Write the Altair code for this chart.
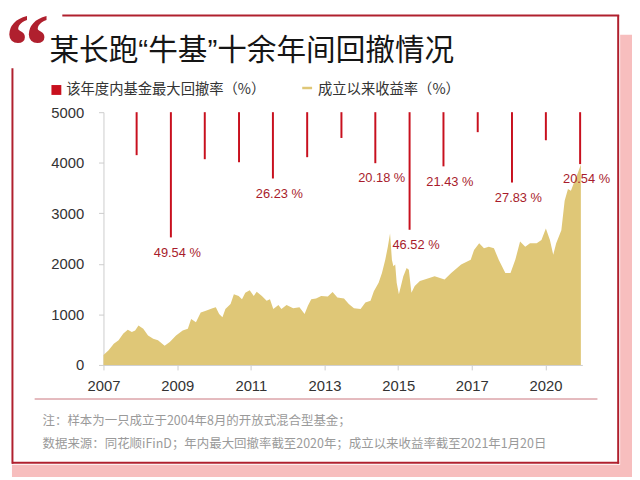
import altair as alt
import pandas as pd

# ---------------- data ----------------
# cumulative return since inception (%)
area_t = [0.00, 0.14, 0.28, 0.41, 0.54, 0.66, 0.77, 0.86, 0.95, 1.08, 1.21, 1.35, 1.48, 1.66, 1.80,
          1.97, 2.15, 2.29, 2.38, 2.51, 2.64, 2.78, 2.96, 3.05, 3.14, 3.23, 3.31, 3.45, 3.54, 3.67,
          3.76, 3.85, 3.97, 4.08, 4.16, 4.30, 4.43, 4.52, 4.61, 4.75, 4.83, 4.97, 5.15, 5.32, 5.46,
          5.55, 5.64, 5.77, 5.91, 6.09, 6.22, 6.35, 6.53, 6.66, 6.80, 6.98, 7.11, 7.25, 7.34, 7.47,
          7.56, 7.65, 7.72, 7.78, 7.83, 7.87, 7.92, 7.96, 8.02, 8.14, 8.23, 8.29, 8.36, 8.45, 8.59,
          8.72, 8.99, 9.26, 9.44, 9.71, 9.97, 10.06, 10.20, 10.33, 10.46, 10.60, 10.73, 10.91, 11.05,
          11.18, 11.31, 11.45, 11.58, 11.76, 11.89, 12.01, 12.12, 12.21, 12.29, 12.43, 12.52, 12.61,
          12.69, 12.79, 12.88, 12.96]
area_v = [195, 290, 420, 490, 620, 695, 650, 680, 780, 715, 585, 520, 490, 380, 455,
          585, 680, 715, 910, 845, 1040, 1070, 1120, 1140, 1010, 945, 1105, 1205, 1400, 1365,
          1300, 1430, 1480, 1365, 1450, 1365, 1270, 1300, 1105, 1185, 1105, 1185, 1120, 1140, 1010,
          1170, 1300, 1315, 1365, 1355, 1445, 1335, 1315, 1205, 1120, 1105, 1235, 1270, 1460, 1625,
          1820, 2080, 2340, 2600, 2080, 1950, 1985, 1625, 1400, 1755, 1920, 1885, 1430, 1560, 1660,
          1690, 1755, 1690, 1820, 1985, 2080, 2275, 2405, 2310, 2340, 2310, 2080, 1820, 1820,
          2080, 2440, 2340, 2405, 2405, 2470, 2700, 2470, 2180, 2405, 2665, 3250, 3480,
          3445, 3640, 3800, 3965]

x_tick_vals = [0, 2, 4, 6, 8, 10, 12]
x_tick_labels = ["2007", "2009", "2011", "2013", "2015", "2017", "2020"]
y_ticks = [0, 1000, 2000, 3000, 4000, 5000]

# yearly maximum drawdown (%)
dd_years = list(range(2007, 2021))
dd_x = [0.90, 1.83, 2.75, 3.68, 4.60, 5.53, 6.46, 7.38, 8.31, 9.23, 10.16, 11.09, 12.01, 12.94]
dd_pct = [17.0, 49.54, 18.6, 19.8, 26.23, 17.8, 10.2, 20.18, 46.52, 21.43, 7.9, 27.83, 11.1, 20.54]
dd_show = [False, True, False, False, True, False, False, True, True, True, False, True, False, True]

title_text = "某长跑“牛基”十余年间回撤情况"
legend_labels = ["该年度内基金最大回撤率（%）", "成立以来收益率（%）"]
notes = ["注：样本为一只成立于2004年8月的开放式混合型基金；",
         "数据来源：同花顺iFinD；年内最大回撤率截至2020年；成立以来收益率截至2021年1月20日"]

# ---------------- styles / layout ----------------
RED = "#c8101e"
DARKRED = "#b0202e"
LABELRED = "#a81c2c"
GOLD = "#dfc777"
PINK = "#f7bebe"
CJK = "Noto Sans CJK SC"
LAT = "Liberation Sans"

OX, OY = 104.7, 110.5   # page position of the plot origin
W, H = 485, 256
SVG_W, SVG_H = 632, 472


def X(p):
    return p - OX


def Y(p):
    return p - OY


one = alt.Data(values=[{"k": 1}])


def rule(x1, y1, x2, y2, color, w):
    return alt.Chart(one).mark_rule(color=color, strokeWidth=w).encode(
        x=alt.value(X(x1)), x2=alt.value(X(x2)), y=alt.value(Y(y1)), y2=alt.value(Y(y2)))


def rect(x1, y1, x2, y2, color):
    return alt.Chart(one).mark_rect(color=color).encode(
        x=alt.value(X(x1)), x2=alt.value(X(x2)), y=alt.value(Y(y1)), y2=alt.value(Y(y2)))


def text(s, x, y, size, color, font, align="left", baseline="middle", weight="normal"):
    return alt.Chart(one).mark_text(text=s, fontSize=size, color=color, font=font, align=align,
                                    baseline=baseline, fontWeight=weight).encode(
        x=alt.value(X(x)), y=alt.value(Y(y)))


xscale = alt.Scale(domain=[0, 13], nice=False, zero=False)
yscale = alt.Scale(domain=[0, 5000], nice=False)

label_expr = "[" + ",".join("'%s'" % s for s in x_tick_labels) + "][round(datum.value/2)]"

area_df = pd.DataFrame({"t": area_t, "v": area_v})
dd_df = pd.DataFrame({"year": dd_years, "t": dd_x, "pct": dd_pct,
                      "label": [("%.2f %%" % p) if s else "" for p, s in zip(dd_pct, dd_show)]})

x_axis = alt.Axis(values=x_tick_vals, labelExpr=label_expr, title=None, grid=False,
                  domainColor="#cccccc", tickColor="#cccccc", tickSize=5, labelFlush=False,
                  labelFontSize=15, labelFont=LAT, labelColor="#333333", labelPadding=9)
y_axis = alt.Axis(values=y_ticks, format="d", title=None, grid=False, domainColor="#cccccc",
                  tickColor="#cccccc", tickSize=5, labelFontSize=15, labelFont=LAT,
                  labelFlush=False, labelColor="#333333", labelPadding=15)

area = alt.Chart(area_df).mark_area(color=GOLD, opacity=1).encode(
    x=alt.X("t:Q", scale=xscale, axis=x_axis),
    y=alt.Y("v:Q", scale=yscale, axis=y_axis),
)

bars = alt.Chart(dd_df).transform_calculate(
    top="5000", bottom="5000 - datum.pct * 50"
).mark_rule(color=RED, strokeWidth=2).encode(
    x=alt.X("t:Q", scale=xscale, axis=x_axis),
    y=alt.Y("top:Q", scale=yscale, axis=y_axis),
    y2="bottom:Q",
)

labels = alt.Chart(dd_df).transform_calculate(
    bottom="5000 - datum.pct * 50"
).mark_text(color=LABELRED, fontSize=13, font=LAT, dx=6.5, dy=15.5, align="center",
            baseline="middle").encode(
    x=alt.X("t:Q", scale=xscale, axis=x_axis),
    y=alt.Y("bottom:Q", scale=yscale, axis=y_axis),
    text="label:N",
)

decor = [
    rect(628, 32, 640, 480, PINK),
    rect(12, 467.5, 640, 480, PINK),
    rule(63, 12.5, 627, 12.5, DARKRED, 2),
    rule(626, 12, 626, 466.5, DARKRED, 2),
    rule(12, 465.5, 627, 465.5, DARKRED, 2),
    rule(12.5, 66, 12.5, 466.5, DARKRED, 2),
    rule(35, 401, 605, 401, "#c9747c", 1),
]

texts = [
    text("“", 5, 73, 90, DARKRED, "Liberation Serif", baseline="alphabetic", weight="bold"),
    text(title_text, 50, 49, 30, "#151515", "Liberation Sans, Noto Sans CJK SC"),
    rect(52, 83, 62, 93, RED),
    text(legend_labels[0], 67, 88, 14.5, "#333333", CJK),
    rule(306, 86, 316, 86, GOLD, 2.5),
    text(legend_labels[1], 322, 88, 14.5, "#333333", CJK),
    text(notes[0], 43, 423, 12.6, "#9a9a9a", CJK),
    text(notes[1], 43, 447, 12.6, "#9a9a9a", CJK),
]

chart = alt.layer(area, bars, labels, *decor, *texts).properties(
    width=W, height=H,
    autosize=alt.AutoSizeParams(type="none"),
    padding={"left": OX - 8, "top": OY - 8, "right": SVG_W - (OX - 8) - W,
             "bottom": SVG_H - (OY - 8) - H},
    background="white",
).configure_view(stroke=None)

chart.save("out.html", embed_options={"renderer": "svg", "actions": False})
